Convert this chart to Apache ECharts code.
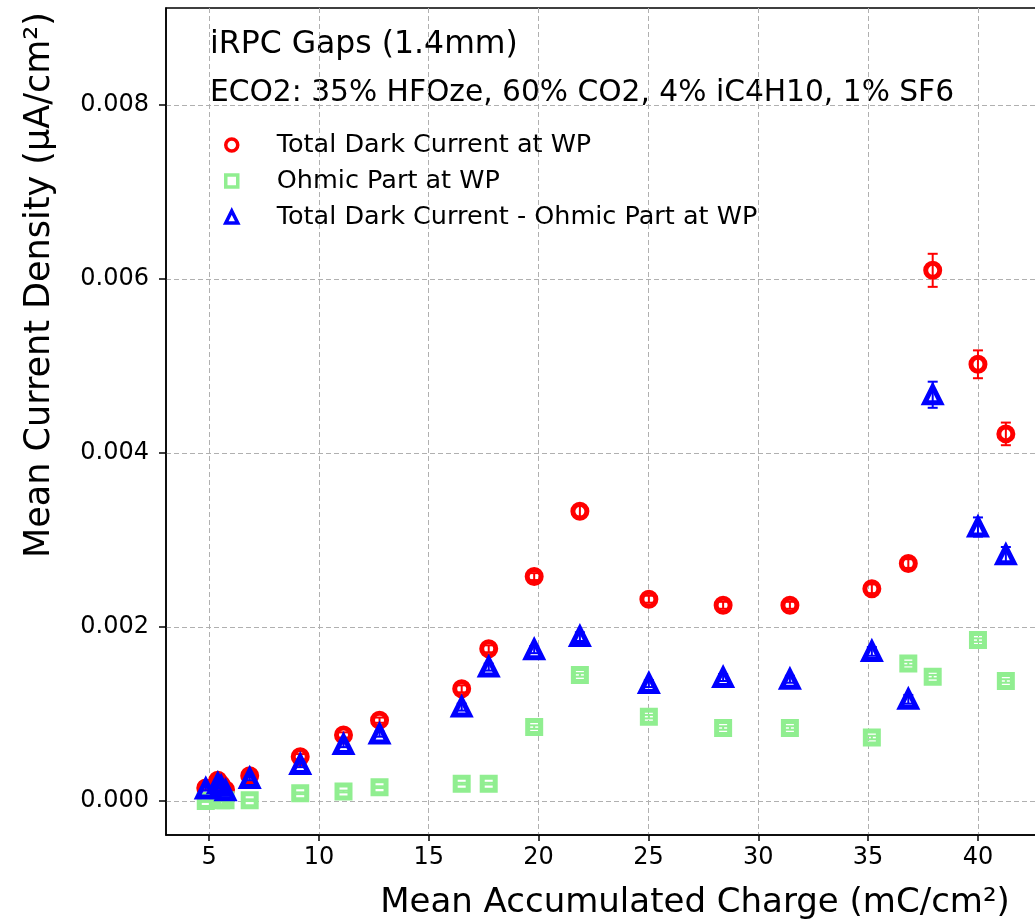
<!DOCTYPE html>
<html>
<head>
<meta charset="utf-8">
<script src="https://cdn.jsdelivr.net/npm/echarts@6/dist/echarts.min.js"></script>
<style>
html,body{margin:0;padding:0;background:#fff;}
#chart{width:1035px;height:924px;}
</style>
</head>
<body>
<div id="chart"></div>
<script>
// mean accumulated charge (mC/cm2)
var charge   = [4.85, 5.40, 5.55, 5.75, 6.85, 9.15, 11.12, 12.76, 16.50, 17.73, 19.80, 21.88, 25.02, 28.40, 31.44, 35.17, 36.83, 37.94, 40.00, 41.27];
// mean current density (uA/cm2)
var totalCur = [0.00015, 0.00024, 0.00019, 0.00013, 0.00029, 0.00051, 0.00076, 0.00093, 0.00129, 0.00175, 0.00258, 0.00333, 0.00232, 0.00225, 0.00225, 0.00244, 0.00273, 0.00610, 0.00502, 0.00422];
var totalErr = [0.00002, 0.00002, 0.00002, 0.00002, 0.00002, 0.00003, 0.00003, 0.00003, 0.00004, 0.00004, 0.00004, 0.00006, 0.00004, 0.00004, 0.00004, 0.00005, 0.00005, 0.00019, 0.00016, 0.00013];
var ohmicCur = [0.00000, 0.00002, 0.00001, 0.00001, 0.00001, 0.00009, 0.00011, 0.00016, 0.00020, 0.00020, 0.00085, 0.00145, 0.00097, 0.00084, 0.00084, 0.00073, 0.00158, 0.00143, 0.00185, 0.00138];
var ohmicErr = [0.00001, 0.00001, 0.00001, 0.00001, 0.00001, 0.00001, 0.00001, 0.00001, 0.00001, 0.00001, 0.00002, 0.00002, 0.00002, 0.00002, 0.00002, 0.00002, 0.00002, 0.00002, 0.00002, 0.00002];
var diffCur  = [0.00014, 0.00020, 0.00017, 0.00012, 0.00026, 0.00042, 0.00065, 0.00077, 0.00108, 0.00154, 0.00174, 0.00189, 0.00135, 0.00142, 0.00140, 0.00172, 0.00117, 0.00467, 0.00315, 0.00283];
var diffErr  = [0.00002, 0.00002, 0.00002, 0.00002, 0.00002, 0.00003, 0.00003, 0.00003, 0.00004, 0.00004, 0.00004, 0.00005, 0.00004, 0.00004, 0.00004, 0.00005, 0.00005, 0.00015, 0.00011, 0.00009];

var xTicks = [5, 10, 15, 20, 25, 30, 35, 40, 45, 50];
var yTicks = [0, 0.002, 0.004, 0.006, 0.008];
var names  = ['Total Dark Current at WP', 'Ohmic Part at WP', 'Total Dark Current - Ohmic Part at WP'];

var FONT = 'DejaVu Sans';

function pts(ys){
	return charge.map(function(x, i){ return [x, ys[i]]; });
}
function errPts(ys, es){
	return charge.map(function(x, i){ return [x, ys[i], es[i]]; });
}
// vertical error bar with caps
function errRender(color){
	return function(params, api){
		var x = api.value(0), y = api.value(1), e = api.value(2);
		var t = api.coord([x, y + e]), b = api.coord([x, y - e]);
		var cap = 5, st = { stroke: color, lineWidth: 2 };
		return {
			type: 'group',
			children: [
				{ type: 'line', shape: { x1: t[0], y1: t[1], x2: b[0], y2: b[1] }, style: st },
				{ type: 'line', shape: { x1: t[0] - cap, y1: t[1], x2: t[0] + cap, y2: t[1] }, style: st },
				{ type: 'line', shape: { x1: b[0] - cap, y1: b[1], x2: b[0] + cap, y2: b[1] }, style: st }
			]
		};
	};
}

var chart = echarts.init(document.getElementById('chart'), null, { renderer: 'canvas' });

var axisLineStyle = { color: '#000', width: 1.5 };
var gridLine = { show: true, lineStyle: { color: '#b0b0b0', width: 1, type: [5, 3] } };

chart.setOption({
	animation: false,
	backgroundColor: '#fff',
	// plot area runs past the right edge of the picture
	grid: { left: 166, top: 8, width: 1058, height: 827, outerBoundsMode: 'none',
		show: true, borderColor: '#000', borderWidth: 1.5, containLabel: false },
	xAxis: {
		type: 'value', min: 3.04, max: 51.2, splitNumber: 10, position: 'bottom',
		axisLine: { show: true, onZero: false, lineStyle: axisLineStyle },
		axisTick: { show: true, length: 6, customValues: xTicks, lineStyle: axisLineStyle },
		axisLabel: { customValues: xTicks, margin: 11,
			fontFamily: FONT, fontSize: 24, color: '#000' },
		splitLine: gridLine
	},
	yAxis: {
		type: 'value', min: -0.00039, max: 0.009115, splitNumber: 5,
		axisLine: { show: true, onZero: false, lineStyle: axisLineStyle },
		axisTick: { show: true, length: 7, customValues: yTicks, lineStyle: axisLineStyle },
		axisLabel: { customValues: yTicks, margin: 17,
			fontFamily: FONT, fontSize: 24, color: '#000',
			formatter: function(v){ return v.toFixed(3); } },
		splitLine: gridLine
	},
	legend: {
		orient: 'vertical', left: 224, top: 132, padding: 0, itemWidth: 12, itemHeight: 12, itemGap: 10,
		selectedMode: false, data: names,
		itemStyle: { borderWidth: 3.5 },
		textStyle: { fontFamily: FONT, fontSize: 25.5, color: '#000', padding: [0, 0, 0, 34] }
	},
	graphic: [
		{ type: 'text', x: 210, y: 45, style: { text: 'iRPC Gaps (1.4mm)', font: '31.5px "DejaVu Sans"', fill: '#000', align: 'left', verticalAlign: 'middle' } },
		{ type: 'text', x: 210, y: 93, style: { text: 'ECO2: 35% HFOze, 60% CO2, 4% iC4H10, 1% SF6', font: '29.7px "DejaVu Sans"', fill: '#000', align: 'left', verticalAlign: 'middle' } },
		{ type: 'text', x: 695, y: 903, style: { text: 'Mean Accumulated Charge (mC/cm²)', font: '34px "DejaVu Sans"', fill: '#000', align: 'center', verticalAlign: 'middle' } },
		{ type: 'text', x: 40, y: 285, rotation: Math.PI / 2, style: { text: 'Mean Current Density (μA/cm²)', font: '35px "DejaVu Sans"', fill: '#000', align: 'center', verticalAlign: 'middle' } }
	],
	series: [
		{ type: 'custom', renderItem: errRender('#ff0000'), data: errPts(totalCur, totalErr), encode: { x: 0, y: 1 }, z: 2, silent: true },
		{ name: names[0], type: 'scatter', data: pts(totalCur), symbol: 'circle', symbolSize: 14, z: 3,
			itemStyle: { color: 'rgba(255,255,255,0)', borderColor: '#ff0000', borderWidth: 5, opacity: 1 } },
		{ type: 'custom', renderItem: errRender('#90ee90'), data: errPts(ohmicCur, ohmicErr), encode: { x: 0, y: 1 }, z: 4, silent: true },
		{ name: names[1], type: 'scatter', data: pts(ohmicCur), symbol: 'rect', symbolSize: 13, z: 5,
			itemStyle: { color: 'rgba(255,255,255,0)', borderColor: '#90ee90', borderWidth: 5, opacity: 1 } },
		{ type: 'custom', renderItem: errRender('#0000ff'), data: errPts(diffCur, diffErr), encode: { x: 0, y: 1 }, z: 6, silent: true },
		{ name: names[2], type: 'scatter', data: pts(diffCur), symbol: 'triangle', symbolSize: 16, z: 7,
			itemStyle: { color: 'rgba(255,255,255,0)', borderColor: '#0000ff', borderWidth: 5, opacity: 1 } }
	]
});
</script>
</body>
</html>
